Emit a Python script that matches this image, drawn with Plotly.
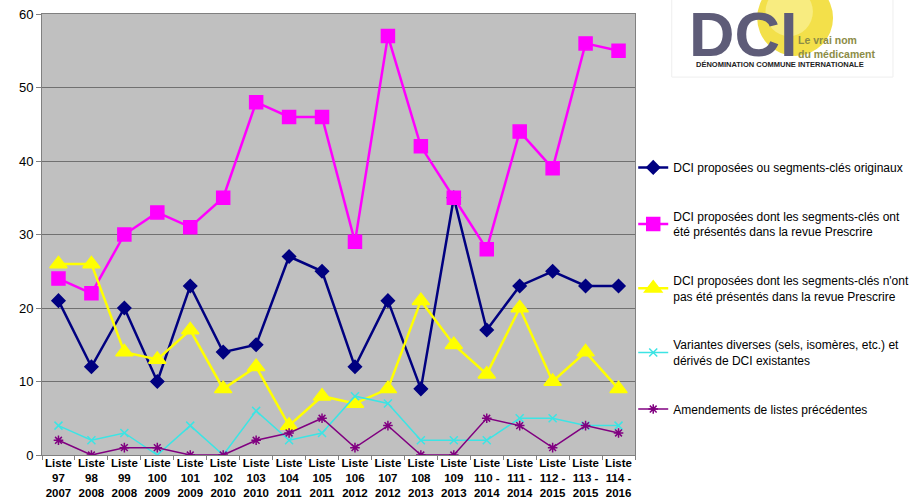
import plotly.graph_objects as go

categories = ["Liste<br>97<br>2007", "Liste<br>98<br>2008", "Liste<br>99<br>2008", "Liste<br>100<br>2009",
              "Liste<br>101<br>2009", "Liste<br>102<br>2010", "Liste<br>103<br>2010", "Liste<br>104<br>2011",
              "Liste<br>105<br>2011", "Liste<br>106<br>2012", "Liste<br>107<br>2012", "Liste<br>108<br>2013",
              "Liste<br>109<br>2013", "Liste<br>110 -<br>2014", "Liste<br>111 -<br>2014", "Liste<br>112 -<br>2015",
              "Liste<br>113 -<br>2015", "Liste<br>114 -<br>2016"]

originaux = [21, 12, 20, 10, 23, 14, 15, 27, 25, 12, 21, 9, 35, 17, 23, 25, 23, 23]
presentes = [24, 22, 30, 33, 31, 35, 48, 46, 46, 29, 57, 42, 35, 28, 44, 39, 56, 55]
non_presentes = [26, 26, 14, 13, 17, 9, 12, 4, 8, 7, 9, 21, 15, 11, 20, 10, 14, 9]
variantes = [4, 2, 3, 0, 4, 0, 6, 2, 3, 8, 7, 2, 2, 2, 5, 5, 4, 4]
amendements = [2, 0, 1, 1, 0, 0, 2, 3, 5, 1, 4, 0, 0, 5, 4, 1, 4, 3]

names = ["DCI proposées ou segments-clés originaux",
         "DCI proposées dont les segments-clés ont<br>été présentés dans la revue Prescrire",
         "DCI proposées dont les segments-clés n'ont<br>pas été présentés dans la revue Prescrire",
         "Variantes diverses (sels, isomères, etc.) et<br>dérivés de DCI existantes",
         "Amendements de listes précédentes"]

series = [originaux, presentes, non_presentes, variantes, amendements]
colors = ["#000080", "#FF00FF", "#FFFF00", "#3CE4E4", "#800080"]
symbols = ["diamond", "square", "triangle-up", "x-thin-open", "asterisk-open"]
sizes = [10, 13, 15, 8, 8]
widths = [2.5, 2.5, 2.5, 1.5, 1.5]

fig = go.Figure()
for i, (n, s) in enumerate(zip(names, series)):
    fig.add_trace(go.Scatter(
        x=categories, y=s, name=n, mode="lines+markers",
        line=dict(color=colors[i], width=widths[i]),
        marker=dict(symbol=symbols[i], size=sizes[i], color=colors[i],
                    line=dict(color=colors[i], width=1.5)),
        legendgroup=str(i),
    ))

fig.update_layout(
    width=918, height=502,
    margin=dict(l=42, r=283, t=14, b=47, autoexpand=False),
    paper_bgcolor="white",
    plot_bgcolor="#C0C0C0",
    font=dict(family="Liberation Sans, Arial", color="black"),
    showlegend=True,
    legend=dict(x=0.997, y=0.685, xanchor="left", yanchor="top",
                font=dict(size=12, color="black"),
                tracegroupgap=30, itemwidth=30, bgcolor="rgba(0,0,0,0)"),
    xaxis=dict(
        type="category", showgrid=False, ticks="outside", tickson="boundaries",
        ticklen=4, tickcolor="#808080", showline=True, linecolor="#808080", linewidth=1,
        tickangle=0, automargin=False, ticklabelstandoff=-3,
        tickfont=dict(size=11.5, family="Liberation Sans, Arial", color="black", weight="bold"),
        mirror=True, range=[-0.5, 17.5],
    ),
    yaxis=dict(
        range=[0, 60], dtick=10, showgrid=True, gridcolor="#707070", gridwidth=1.2,
        ticks="outside", ticklen=5, tickcolor="#808080", showline=True, linecolor="#808080",
        mirror=True, tickfont=dict(size=13, color="black"), zeroline=False, automargin=False,
    ),
)

# Logo (DCI)
fig.add_shape(type="rect", xref="paper", yref="paper", x0=1.062, x1=1.435, y0=0.857, y1=1.04,
              line=dict(color="#EEEEEE", width=1), fillcolor="white", layer="below")
fig.add_shape(type="circle", xref="paper", yref="paper", x0=1.206, x1=1.334, y0=0.905, y1=1.077,
              line=dict(width=0), fillcolor="#F3E04A", layer="below")
fig.add_shape(type="circle", xref="paper", yref="paper", x0=1.22, x1=1.30, y0=0.95, y1=1.06,
              line=dict(width=0), fillcolor="#F8EC80", layer="below")
fig.add_annotation(xref="paper", yref="paper", x=1.088, y=0.955, xanchor="left", yanchor="middle",
                   text="<b>DCI</b>", showarrow=False,
                   font=dict(size=63, color="#5E5C78", family="Liberation Sans, Arial"))
fig.add_annotation(xref="paper", yref="paper", x=1.271, y=0.925, xanchor="left", yanchor="middle",
                   text="<b>Le vrai nom<br>du médicament</b>", showarrow=False, align="left",
                   font=dict(size=10.5, color="#8C8C46", family="Liberation Sans, Arial"))
fig.add_annotation(xref="paper", yref="paper", x=1.1, y=0.885, xanchor="left", yanchor="middle",
                   text="<b>DÉNOMINATION COMMUNE INTERNATIONALE</b>", showarrow=False,
                   font=dict(size=7.5, color="#222222", family="Liberation Sans, Arial"))

fig.write_html("out.html")
